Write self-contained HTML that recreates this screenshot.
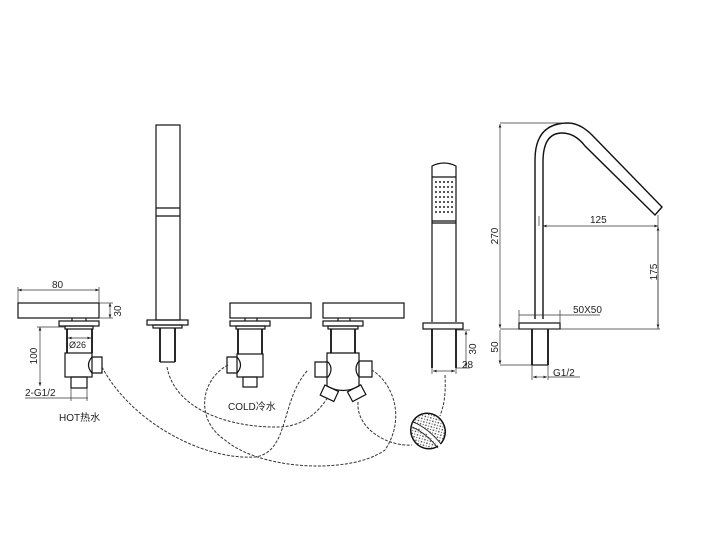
<!DOCTYPE html>
<html><head><meta charset="utf-8"><style>
html,body{margin:0;padding:0;background:#fff;}
svg{display:block;}
text{font-family:"Liberation Sans","Noto Sans CJK SC",sans-serif;fill:#222;}
</style></head><body>
<svg width="720" height="547" viewBox="0 0 720 547" xmlns="http://www.w3.org/2000/svg">
<defs>
<marker id="a" markerWidth="6" markerHeight="6" refX="5" refY="3" orient="auto-start-reverse"><path d="M0,1 L5,3 L0,5 z" fill="#222"/></marker>
<pattern id="dots" width="4" height="4" patternUnits="userSpaceOnUse"><circle cx="1" cy="1" r="0.8" fill="#333"/><circle cx="3" cy="3" r="0.6" fill="#555"/></pattern>
</defs>
<g fill="none" stroke="#111" stroke-width="1.2">
<!-- Left HOT tap -->
<rect x="18" y="303" width="81" height="15"/>
<rect x="59" y="321" width="40" height="5"/>
<rect x="65" y="326" width="28" height="3"/>
<line x1="67" y1="329" x2="67" y2="353" stroke-width="1.8"/>
<line x1="92" y1="329" x2="92" y2="353" stroke-width="1.8"/>
<rect x="65" y="353" width="27" height="24"/>
<path d="M92,357 L102,357 L102,373 L92,373 Q85,365 92,357 Z"/>
<rect x="71" y="377" width="16" height="11"/>
<line x1="72" y1="318" x2="72" y2="321"/><line x1="86" y1="318" x2="86" y2="321"/>

<!-- holder column -->
<rect x="156" y="125" width="24" height="195"/>
<line x1="156" y1="208" x2="180" y2="208"/><line x1="156" y1="216" x2="180" y2="216"/>
<rect x="147" y="320" width="41" height="5"/>
<rect x="153" y="325" width="29" height="3"/>
<line x1="160" y1="328" x2="160" y2="362" stroke-width="1.8"/>
<line x1="175" y1="328" x2="175" y2="362" stroke-width="1.8"/>
<line x1="160" y1="362" x2="175" y2="362"/>

<!-- COLD tap -->
<rect x="230" y="303" width="81" height="15"/>
<line x1="245" y1="318" x2="245" y2="321"/><line x1="257" y1="318" x2="257" y2="321"/>
<rect x="230" y="321" width="40" height="5"/>
<rect x="236" y="326" width="29" height="3"/>
<line x1="238" y1="329" x2="238" y2="354" stroke-width="1.8"/>
<line x1="262" y1="329" x2="262" y2="354" stroke-width="1.8"/>
<rect x="237" y="354" width="26" height="23"/>
<path d="M237,357 L227,357 L227,373 L237,373 Q244,365 237,357 Z"/>
<rect x="243" y="377" width="14" height="10"/>

<!-- Diverter tap -->
<rect x="323" y="303" width="81" height="15"/>
<line x1="338" y1="318" x2="338" y2="321"/><line x1="350" y1="318" x2="350" y2="321"/>
<rect x="323" y="321" width="40" height="5"/>
<rect x="328" y="326" width="30" height="3"/>
<line x1="331" y1="329" x2="331" y2="353" stroke-width="1.8"/>
<line x1="355" y1="329" x2="355" y2="353" stroke-width="1.8"/>
<path d="M327,353 L359,353 L359,386 Q343,395 327,386 Z"/>
<path d="M328,362 L315,362 L315,377 L328,377 Q334,369 328,362 Z"/>
<path d="M359,361 L372,361 L372,377 L359,377 Q353,369 359,361 Z"/>
<rect x="322" y="388" width="15" height="11" transform="rotate(25 330 393)"/>
<rect x="349" y="388" width="15" height="11" transform="rotate(-28 356 393)"/>

<!-- Hand shower -->
<path d="M432,322 L432,166 Q444,160 456,166 L456,322"/>
<line x1="432" y1="177" x2="456" y2="177"/>
<line x1="432" y1="221" x2="456" y2="221"/>
<line x1="432" y1="223" x2="456" y2="223"/>
<rect x="423" y="323" width="40" height="6"/>
<line x1="432" y1="329" x2="432" y2="368" stroke-width="1.8"/>
<line x1="456" y1="329" x2="456" y2="368" stroke-width="1.8"/>

<!-- Spout -->
<path d="M535,319 L535,160 Q535,123 568,123 Q580,123 592,135 L662,207 L655,215 L585,146 Q575,133 562,133 Q543,133 543,162 L543,319" stroke-width="1.4"/>
<rect x="519" y="323" width="41" height="6"/>
<line x1="532" y1="329" x2="532" y2="365" stroke-width="1.8"/>
<line x1="548" y1="329" x2="548" y2="365" stroke-width="1.8"/>
<line x1="532" y1="365" x2="548" y2="365"/>
</g>

<g fill="#222">
<circle cx="436" cy="182" r="1"/><circle cx="440" cy="182" r="1"/><circle cx="444" cy="182" r="1"/><circle cx="448" cy="182" r="1"/><circle cx="452" cy="182" r="1"/>
<circle cx="436" cy="187" r="1"/><circle cx="440" cy="187" r="1"/><circle cx="444" cy="187" r="1"/><circle cx="448" cy="187" r="1"/><circle cx="452" cy="187" r="1"/>
<circle cx="436" cy="192" r="1"/><circle cx="440" cy="192" r="1"/><circle cx="444" cy="192" r="1"/><circle cx="448" cy="192" r="1"/><circle cx="452" cy="192" r="1"/>
<circle cx="436" cy="197" r="1"/><circle cx="440" cy="197" r="1"/><circle cx="444" cy="197" r="1"/><circle cx="448" cy="197" r="1"/><circle cx="452" cy="197" r="1"/>
<circle cx="436" cy="202" r="1"/><circle cx="440" cy="202" r="1"/><circle cx="444" cy="202" r="1"/><circle cx="448" cy="202" r="1"/><circle cx="452" cy="202" r="1"/>
<circle cx="436" cy="207" r="1"/><circle cx="440" cy="207" r="1"/><circle cx="444" cy="207" r="1"/><circle cx="448" cy="207" r="1"/><circle cx="452" cy="207" r="1"/>
<circle cx="436" cy="212" r="1"/><circle cx="440" cy="212" r="1"/><circle cx="444" cy="212" r="1"/><circle cx="448" cy="212" r="1"/><circle cx="452" cy="212" r="1"/>
</g>

<!-- ball -->
<ellipse cx="428" cy="431" rx="17" ry="18" transform="rotate(-30 428 431)" fill="url(#dots)" stroke="#111" stroke-width="1.5"/>
<path d="M413,424 Q428,430 440,446" fill="none" stroke="#fff" stroke-width="3"/>
<path d="M413,422 Q428,428 441,444 M412,427 Q426,433 438,448" fill="none" stroke="#111" stroke-width="0.8"/>

<!-- hoses -->
<g fill="none" stroke="#333" stroke-width="1" stroke-dasharray="3,1.5">
<path d="M102,367 C130,420 200,460 255,457 C290,452 280,400 308,370"/>
<path d="M167,367 C175,410 230,428 280,427 C305,426 320,410 328,397"/>
<path d="M228,365 C200,380 195,420 225,440 C260,470 350,475 385,450 C405,420 395,385 372,370"/>
<path d="M358,402 C356,430 390,447 412,445"/>
<path d="M445,375 C446,395 444,405 440,416"/>
</g>

<!-- dimensions -->
<g stroke="#333" stroke-width="0.7" fill="none">
<line x1="18" y1="290" x2="99" y2="290" marker-start="url(#a)" marker-end="url(#a)"/>
<line x1="18" y1="287" x2="18" y2="303"/><line x1="99" y1="287" x2="99" y2="303"/>
<line x1="99" y1="303" x2="113" y2="303"/><line x1="99" y1="318" x2="113" y2="318"/>
<line x1="110" y1="303" x2="110" y2="318" marker-start="url(#a)" marker-end="url(#a)"/>
<line x1="68" y1="338" x2="91" y2="338" marker-start="url(#a)" marker-end="url(#a)"/>
<line x1="37" y1="327" x2="65" y2="327"/>
<line x1="40" y1="327" x2="40" y2="386" marker-start="url(#a)" marker-end="url(#a)"/>
<line x1="25" y1="398" x2="88" y2="398"/>
<line x1="71" y1="388" x2="71" y2="401"/><line x1="87" y1="388" x2="87" y2="401"/>
<line x1="456" y1="330" x2="470" y2="330"/><line x1="456" y1="368" x2="470" y2="368"/>
<line x1="466" y1="331" x2="466" y2="367" marker-start="url(#a)" marker-end="url(#a)"/>
<line x1="432" y1="368" x2="432" y2="374"/><line x1="456" y1="368" x2="456" y2="374"/>
<line x1="433" y1="371" x2="455" y2="371" marker-start="url(#a)" marker-end="url(#a)"/>
<line x1="500" y1="123" x2="565" y2="123"/>
<line x1="500" y1="124" x2="500" y2="328" marker-start="url(#a)" marker-end="url(#a)"/>
<line x1="500" y1="329" x2="660" y2="329"/>
<line x1="500" y1="330" x2="500" y2="364" marker-end="url(#a)"/>
<line x1="500" y1="365" x2="532" y2="365"/>
<line x1="539" y1="216" x2="539" y2="226"/>
<line x1="543" y1="226" x2="658" y2="226" marker-start="url(#a)" marker-end="url(#a)"/>
<line x1="658" y1="215" x2="658" y2="329"/>
<line x1="658" y1="227" x2="658" y2="328" marker-start="url(#a)" marker-end="url(#a)"/>
<line x1="519" y1="310" x2="519" y2="323"/><line x1="560" y1="310" x2="560" y2="323"/>
<line x1="519" y1="315" x2="600" y2="315"/>
<line x1="532" y1="365" x2="532" y2="380"/><line x1="548" y1="365" x2="548" y2="380"/>
<line x1="533" y1="377" x2="547" y2="377" marker-start="url(#a)" marker-end="url(#a)"/>
<line x1="548" y1="377" x2="580" y2="377"/>
</g>

<g font-size="10">
<text x="52" y="288">80</text>
<text x="0" y="0" transform="translate(121,311) rotate(-90)" text-anchor="middle">30</text>
<text x="69" y="348" font-size="9">Ø26</text>
<text x="0" y="0" transform="translate(37,356) rotate(-90)" text-anchor="middle">100</text>
<text x="25" y="396">2-G1/2</text>
<text x="59" y="421" font-family="Liberation Serif,Noto Serif CJK SC,serif">HOT热水</text>
<text x="228" y="410" font-family="Liberation Serif,Noto Serif CJK SC,serif">COLD冷水</text>
<text x="0" y="0" transform="translate(476,349) rotate(-90)" text-anchor="middle">30</text>
<text x="462" y="368">28</text>
<text x="0" y="0" transform="translate(498,236) rotate(-90)" text-anchor="middle">270</text>
<text x="0" y="0" transform="translate(498,347) rotate(-90)" text-anchor="middle">50</text>
<text x="590" y="223">125</text>
<text x="0" y="0" transform="translate(657,272) rotate(-90)" text-anchor="middle">175</text>
<text x="573" y="313">50X50</text>
<text x="553" y="376">G1/2</text>
</g>
</svg>
</body></html>
